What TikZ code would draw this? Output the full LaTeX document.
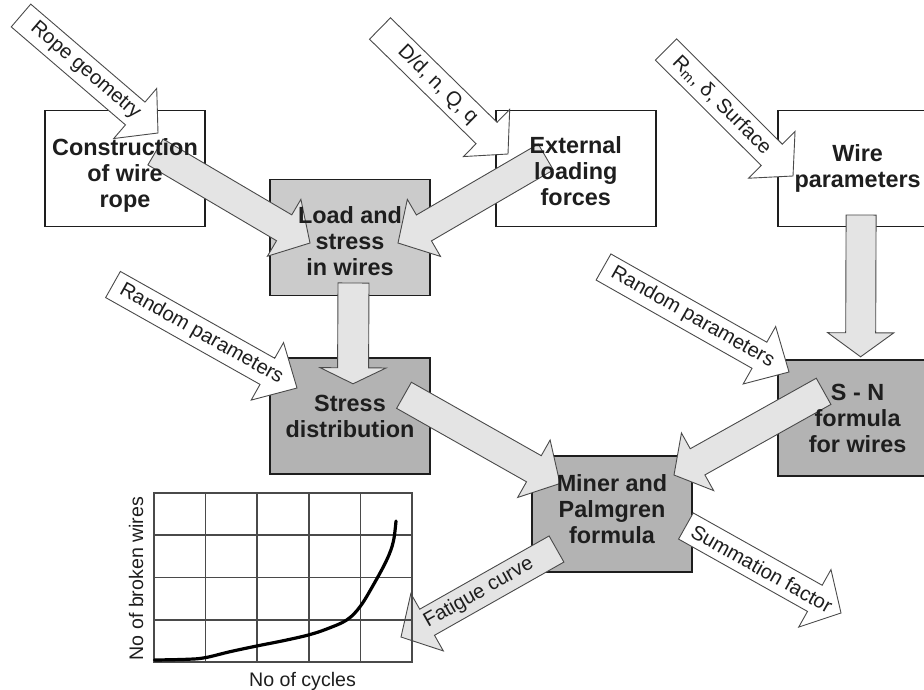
\documentclass[tikz,border=0pt]{standalone}
\usepackage{fontspec}
\setmainfont{Liberation Sans}
\usetikzlibrary{calc,positioning}
\definecolor{inkgray}{HTML}{1E1E1E}
\definecolor{edgegray}{HTML}{4A4A4A}
\definecolor{lightbox}{HTML}{CBCBCB}
\definecolor{darkbox}{HTML}{B3B3B3}
\definecolor{flowfill}{HTML}{E4E4E4}

\tikzset{
  fat shaft/.store in=\fatshaft, fat shaft=15pt,
  fat head/.store in=\fathead, fat head=33pt,
  fat headlen/.store in=\fatheadlen, fat headlen=30pt,
  fat fill/.store in=\fatfill, fat fill=white
}
% [options] tail, tip, label, label pos
\newcommand{\fatarrow}[5][]{%
  \begin{scope}[#1]
    \coordinate (fat-base) at ($(#3)!\fatheadlen!(#2)$);
    \draw[fatbody, fill=\fatfill] ($(#2)!\fatshaft!90:(#3)$) -- ($(fat-base)!\fatshaft!-90:(#2)$)
      -- ($(fat-base)!\fathead!-90:(#2)$) -- (#3)
      -- ($(fat-base)!\fathead!90:(#2)$) -- ($(fat-base)!\fatshaft!90:(#2)$)
      -- ($(#2)!\fatshaft!-90:(#3)$) -- cycle;
    \path (#2) -- (#3) node[fatlabel, pos=#5, sloped] {#4};
  \end{scope}}

\begin{document}
\begin{tikzpicture}[
  x=1pt, y=-1pt,
  box/.style={draw=inkgray, line width=1.8pt, minimum width=160pt,
              minimum height=116pt, inner sep=0pt},
  boxtext/.style={font=\fontsize{23.4}{26}\selectfont\bfseries, text=inkgray, align=center},
  fatbody/.style={draw=edgegray, line width=0.9pt, line join=miter},
  fatlabel/.style={font=\fontsize{20.2}{22}\selectfont, text=inkgray, inner sep=0pt},
  inarrow/.style={fat fill=white},
  flowarrow/.style={fat fill=flowfill},
  gridline/.style={draw=edgegray, line width=1.2pt},
  curve/.style={draw=black, line width=3.2pt, line cap=round},
  axislabel/.style={font=\fontsize{19.6}{22}\selectfont, text=inkgray, inner sep=0pt}
]
\useasboundingbox (0,0) rectangle (924,689);

% boxes
\node[box, fill=white] (constr) at (125,168.5) {};
\node[box, fill=white, right=289pt of constr] (extern) {};
\node[box, fill=white, right=120pt of extern] (wire) {};
\node[box, fill=lightbox] (load) at (350,237.5) {};
\node[box, fill=darkbox, below=61pt of load] (stress) {};
\node[box, fill=darkbox, below=132pt of wire] (sn) {};
\node[box, fill=darkbox] (miner) at (612,514) {};

% free ends
\coordinate (rope-tail) at (21,15.5);
\coordinate (rope-tip) at (158,133);
\coordinate (dq-tail) at (380,28.5);
\coordinate (dq-tip) at (508,154);
\coordinate (rm-tail) at (666,49.5);
\coordinate (rm-tip) at (793,176);
\coordinate (randl-tail) at (113,284.5);
\coordinate (randl-tip) at (297,388);
\coordinate (randr-tail) at (603.5,267);
\coordinate (randr-tip) at (789,372);
\coordinate (sum-tip) at (841,613);
\coordinate (fat-tip) at (401,637);

% flow arrows
\coordinate (c1) at ($(constr.center)+(30.5,-16.5)$);
\coordinate (l1) at ($(load.center)+(-40,5.5)$);
\coordinate (e1) at ($(extern.center)+(-30,-11.5)$);
\coordinate (l2) at ($(load.center)+(48,5.5)$);
\coordinate (l3) at ($(load.center)+(3.5,45.5)$);
\coordinate (s1) at ($(stress.center)+(3,-32.5)$);
\coordinate (w1) at ($(wire.center)+(3.5,46.5)$);
\coordinate (n1) at ($(sn.center)+(3,-61.5)$);
\coordinate (s2) at ($(stress.center)+(54,-21)$);
\coordinate (m1) at ($(miner.center)+(-52,-30.5)$);
\coordinate (n2) at ($(sn.center)+(-34,-27)$);
\coordinate (m2) at ($(miner.center)+(62,-39)$);
\coordinate (m3) at ($(miner.center)+(-55.5,35)$);
\coordinate (m4) at ($(miner.east)+(-7,12)$);

\fatarrow[flowarrow]{c1}{l1}{}{.5}
\fatarrow[flowarrow]{e1}{l2}{}{.5}
\fatarrow[flowarrow, fat shaft=15.5pt, fat headlen=16pt]{l3}{s1}{}{.5}
\fatarrow[flowarrow, fat headlen=24pt]{w1}{n1}{}{.5}
\fatarrow[flowarrow]{s2}{m1}{}{.5}
\fatarrow[flowarrow, fat headlen=27pt]{n2}{m2}{}{.5}
\fatarrow[flowarrow]{m3}{fat-tip}{Fatigue curve}{.5}

% input arrows
\fatarrow[inarrow]{rope-tail}{rope-tip}{Rope geometry}{.47}
\fatarrow[inarrow]{dq-tail}{dq-tip}{D/d, n, Q, q}{.45}
\fatarrow[inarrow]{rm-tail}{rm-tip}{R\textsubscript{m}, δ, Surface}{.44}
\fatarrow[inarrow, fat headlen=34pt]{randl-tail}{randl-tip}{Random parameters}{.48}
\fatarrow[inarrow, fat headlen=34pt]{randr-tail}{randr-tip}{Random parameters}{.48}
\fatarrow[inarrow]{m4}{sum-tip}{Summation factor}{.49}

% box texts
\node[boxtext] (constr-t) at ([yshift=-7pt]constr.center) {Construction\\of wire\\rope};
\node[boxtext] (extern-t) at ([yshift=-3pt]extern.center) {External\\loading\\forces};
\node[boxtext] (wire-t) at (wire.center) {Wire\\parameters};
\node[boxtext] (load-t) at ([yshift=-4pt]load.center) {Load and\\stress\\in wires};
\node[boxtext] (stress-t) at (stress.center) {Stress\\distribution};
\node[boxtext] (sn-t) at (sn.center) {S - N\\formula\\for wires};
\node[boxtext] (miner-t) at ([yshift=5pt]miner.center) {Miner and\\Palmgren\\formula};

% fatigue plot
\node[draw=edgegray, line width=1.2pt, minimum width=258pt, minimum height=169pt,
      inner sep=0pt] (plot) at (283,577.5) {};
\foreach \i in {1,...,4}
  \draw[gridline] ($(plot.north west)!\i/5!(plot.north east)$) -- ($(plot.south west)!\i/5!(plot.south east)$);
\foreach \j in {1,2,3}
  \draw[gridline] ($(plot.north west)!\j/4!(plot.south west)$) -- ($(plot.north east)!\j/4!(plot.south east)$);
\draw[curve] plot[smooth, tension=0.6] coordinates {(154.5,660) (186.7,659.3) (205,657.7)
  (230,651.7) (256.7,646) (283.3,640.7) (308.3,635) (326.7,629) (346.7,620) (360,606.7)
  (373.3,585) (386.7,560) (393.3,541.7) (396,521)};
\node[axislabel, rotate=90, anchor=base] (ylab) at (143,578.5) {No of broken wires};
\node[axislabel, anchor=base] (xlab) at (302.5,686.5) {No of cycles};
\end{tikzpicture}
\end{document}
